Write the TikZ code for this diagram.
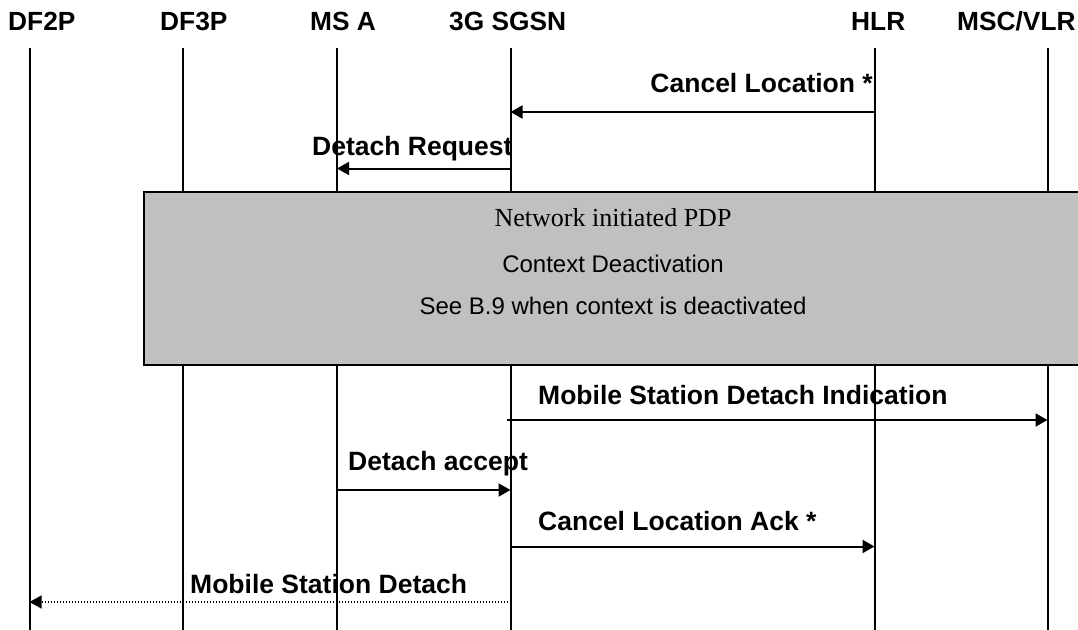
\documentclass[tikz,border=0pt]{standalone}
\usepackage{fontspec}
\setmainfont{Liberation Sans}
\newfontfamily\timesfont{Liberation Serif}
\usetikzlibrary{arrows.meta}
\definecolor{boxgray}{HTML}{C0C0C0}
\begin{document}
\begin{tikzpicture}[x=1pt,y=-1pt,
  lifeline/.style={line width=2pt},
  hdr/.style={font=\fontsize{26.3}{30}\selectfont\bfseries, anchor=base west, inner sep=0pt},
  msgw/.style={font=\fontsize{26.5}{30}\selectfont\bfseries, anchor=base west, inner sep=0pt},
  msge/.style={font=\fontsize{26.5}{30}\selectfont\bfseries, anchor=base east, inner sep=0pt},
  msgarrow/.style={line width=2pt, -{Triangle[length=12pt,width=13pt]}},
  dotarrow/.style={line width=1.4pt, dash pattern=on 1pt off 2pt, -{Triangle[length=12pt,width=13pt]}},
  boxtext/.style={font=\fontsize{24}{28}\selectfont, anchor=base, inner sep=0pt},
  actbox/.style={draw, fill=boxgray, line width=1.6pt, anchor=north west, inner sep=0pt}]
\useasboundingbox (0,0) rectangle (1078,629);

% headers
\node[hdr] (hDF2P) at (8,30) {DF2P};
\node[hdr] (hDF3P) at (160,30) {DF3P};
\node[hdr] (hMSA) at (310,30) {MS A};
\node[hdr] (hSGSN) at (449,30) {3G SGSN};
\node[hdr] (hHLR) at (851,30) {HLR};
\node[hdr] (hMSC) at (957,30) {MSC/VLR};

% lifeline ends
\coordinate (tDF2P) at (29.5,48);  \coordinate (bDF2P) at (29.5,632);
\coordinate (tDF3P) at (183,48);   \coordinate (bDF3P) at (183,632);
\coordinate (tMSA) at (337,48);    \coordinate (bMSA) at (337,632);
\coordinate (tSGSN) at (510.5,48); \coordinate (bSGSN) at (510.5,632);
\coordinate (tHLR) at (874.5,48);  \coordinate (bHLR) at (874.5,632);
\coordinate (tMSC) at (1047.5,48); \coordinate (bMSC) at (1047.5,632);

\foreach \n in {DF2P,DF3P,MSA,SGSN,HLR,MSC}
  \draw[lifeline] (t\n) -- (b\n);

% activity box
\node[actbox, minimum width=950pt, minimum height=173pt] (act) at (143,191) {};
\node[boxtext, font=\fontsize{26}{30}\selectfont\timesfont] (b1) at (613,226) {Network initiated PDP};
\node[boxtext] (b2) at (613,272) {Context Deactivation};
\node[boxtext] (b3) at (613,314) {See B.9 when context is deactivated};

% message points
\coordinate (m1a) at (874.5,112);  \coordinate (m1b) at (510.5,112);
\coordinate (m2a) at (510.5,168.5);\coordinate (m2b) at (337,168.5);
\coordinate (m3a) at (507,420);    \coordinate (m3b) at (1047.5,420);
\coordinate (m4a) at (337,490);    \coordinate (m4b) at (510.5,490);
\coordinate (m5a) at (510.5,546.5);\coordinate (m5b) at (874.5,546.5);
\coordinate (m6a) at (510.5,602);  \coordinate (m6b) at (29.5,602);

\draw[msgarrow] (m1a) -- (m1b);
\draw[msgarrow] (m2a) -- (m2b);
\draw[msgarrow] (m3a) -- (m3b);
\draw[msgarrow] (m4a) -- (m4b);
\draw[msgarrow] (m5a) -- (m5b);
\draw[dotarrow] (m6a) -- (m6b);

% labels
\node[msge] (l1) at (873,92) {Cancel Location *};
\node[msgw] (l2) at (312,155) {Detach Request};
\node[msgw] (l3) at (538,404) {Mobile Station Detach Indication};
\node[msgw] (l4) at (348,470) {Detach accept};
\node[msgw] (l5) at (538,530) {Cancel Location Ack *};
\node[msgw] (l6) at (190,593) {Mobile Station Detach};
\end{tikzpicture}
\end{document}
